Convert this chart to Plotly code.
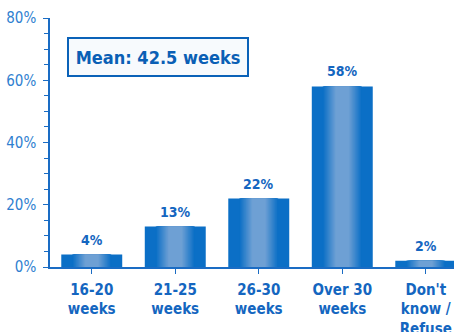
import plotly.graph_objects as go

# Survey responses: expected length of pregnancy leave
categories = ["16-20<br>weeks", "21-25<br>weeks", "26-30<br>weeks", "Over 30<br>weeks", "Don't<br>know /<br>Refuse"]
shares = [4, 13, 22, 58, 2]
share_labels = ["4%", "13%", "22%", "58%", "2%"]
y_ticks = [0, 20, 40, 60, 80]
y_tick_labels = ["0%", "20%", "40%", "60%", "80%"]
mean_text = "Mean: 42.5 weeks"

DARK = (11, 111, 198)
LIGHT = (110, 160, 212)
TEXT_BLUE = "#1466c0"
AXIS_BLUE = "#1a6cc4"
FONT = "Liberation Sans Narrow, DejaVu Sans Condensed, Arial Narrow, sans-serif"
BAR_W = 0.73


def shade(frac):
    # horizontal gradient: dark at the edges, light in the middle
    hi, lo = 0.64, 0.22
    if frac >= hi:
        k = 0.0
    elif frac <= lo:
        k = 1.0
    else:
        k = (hi - frac) / (hi - lo)
    r, g, b = (round(d + (l - d) * k) for d, l in zip(DARK, LIGHT))
    return f"rgb({r},{g},{b})"


fig = go.Figure()
x_idx = list(range(len(categories)))

# stacked layers of narrowing bars build the shaded bar body
fracs = [1.0] + [0.64 - 0.02 * i for i in range(22)]
for f in fracs:
    fig.add_trace(go.Bar(
        x=x_idx, y=shares, width=BAR_W * f,
        marker=dict(color=shade(f), line=dict(width=0)),
        hoverinfo="skip", showlegend=False,
    ))

# value labels above each bar
for xi, v, lab in zip(x_idx, shares, share_labels):
    fig.add_annotation(
        x=xi, y=v, text=f"<b>{lab}</b>", showarrow=False,
        yanchor="bottom", yshift=5,
        font=dict(family=FONT, size=14, color=TEXT_BLUE),
    )

fig.add_annotation(
    xref="paper", yref="paper", x=0.267, y=0.843,
    xanchor="center", yanchor="middle",
    text=f"<b>{mean_text}</b>", showarrow=False,
    font=dict(family=FONT, size=18, color="#0a5fb5"),
    bordercolor="#0a62b8", borderwidth=2, borderpad=2,
    bgcolor="#f7fafd", width=174, height=32,
)

fig.update_layout(
    width=454, height=332, barmode="overlay",
    margin=dict(l=50, r=0, t=18, b=65),
    plot_bgcolor="white", paper_bgcolor="white",
    font=dict(family=FONT),
)
fig.update_xaxes(
    range=[-0.5, 4.338], tickmode="array", tickvals=x_idx, ticktext=categories,
    tickson="boundaries", ticks="outside", ticklen=5, tickcolor=AXIS_BLUE,
    showline=True, linecolor=AXIS_BLUE, linewidth=1.5, showgrid=False,
    tickfont=dict(family=FONT, size=15, color=TEXT_BLUE, weight="bold"),
    ticklabelstandoff=3, automargin=False,
)
fig.update_yaxes(
    range=[0, 80], tickmode="array", tickvals=y_ticks, ticktext=y_tick_labels,
    ticks="outside", ticklen=5, tickcolor=AXIS_BLUE,
    minor=dict(dtick=5, ticks="outside", ticklen=4, tickcolor=AXIS_BLUE, showgrid=False),
    showline=True, linecolor=AXIS_BLUE, linewidth=1.5, showgrid=False, zeroline=False,
    tickfont=dict(family=FONT, size=15, color="#2f7fd0"),
    ticklabelstandoff=4, automargin=False,
)

fig.write_html("out.html")
